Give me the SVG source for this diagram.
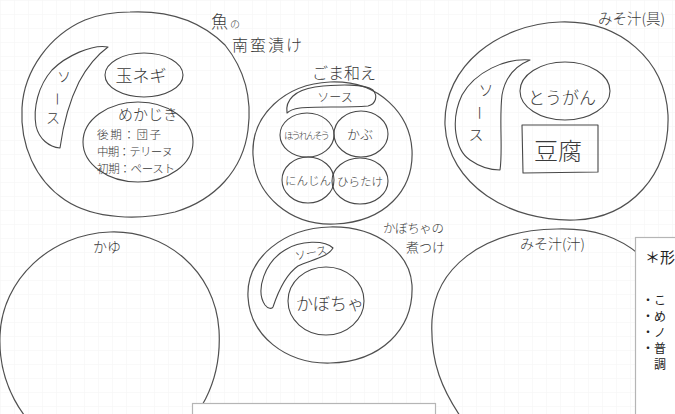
<svg xmlns="http://www.w3.org/2000/svg" width="675" height="414" viewBox="0 0 675 414">
<defs>
<pattern id="grid" width="14" height="14" patternUnits="userSpaceOnUse">
<path d="M14 0 L0 0 0 14" fill="none" stroke="#f3f3f3" stroke-width="1"/>
</pattern>
</defs>
<style>
.ln{fill:none;stroke:#484848;stroke-width:1.1;stroke-linejoin:round;stroke-linecap:round}
.pl{fill:none;stroke:#505050;stroke-width:1.2}
.t{font-family:"Noto Sans CJK JP","Noto Sans",sans-serif;fill:#3a3a3a;font-weight:300}
.c{text-anchor:middle}
.box{fill:#fff;stroke:#b5b5b5;stroke-width:1.2}
.bx{font-family:"Noto Sans CJK JP","Noto Sans",sans-serif;fill:#222}
</style>
<rect width="675" height="414" fill="#fff"/>
<rect width="675" height="414" fill="url(#grid)"/>

<g id="plate-nanban">
<path class="pl" d="M130,12 C175,10 205,25 225,45 C245,70 252,100 248,130 C243,170 215,200 175,212 C140,220 95,220 65,200 C35,180 20,145 22,108 C24,70 50,35 85,20 C100,14 115,12 130,12 Z"/>
<text class="t" x="211" y="28" font-size="17">魚</text>
<text class="t" x="230" y="28" font-size="10">の</text>
<text class="t" x="232" y="51" font-size="16" textLength="70">南蛮漬け</text>
<g id="nanban-sauce">
<path class="ln" d="M108,47 C92,44 66,56 52,70 C38,86 33,108 36,126 C39,139 49,147 60,148 C63,126 69,102 79,82 C87,67 97,55 108,47 Z"/>
<text class="t c" x="64" y="82" font-size="14">ソ</text>
<text class="t c" x="57" y="104" font-size="14" transform="rotate(90 57 99)">ー</text>
<text class="t c" x="53" y="123" font-size="14">ス</text>
</g>
<g id="tamanegi">
<ellipse class="ln" cx="144" cy="75" rx="39" ry="22"/>
<text class="t c" x="141" y="82" font-size="17">玉ネギ</text>
</g>
<g id="mekajiki">
<ellipse class="ln" cx="138" cy="142" rx="55" ry="40"/>
<text class="t c" x="148" y="120" font-size="15">めかじき</text>
<text class="t" x="97" y="139" font-size="11.5" textLength="64">後期：団子</text>
<text class="t" x="97" y="156" font-size="11.5" textLength="76">中期：テリーヌ</text>
<text class="t" x="97" y="173" font-size="11.5" textLength="78">初期：ペースト</text>
</g>
</g>

<g id="plate-goma">
<path class="pl" d="M330,82 C380,80 410,115 412,150 C414,190 385,222 335,224 C290,226 255,195 253,155 C251,115 285,84 330,82 Z"/>
<text class="t" x="312" y="79" font-size="16" textLength="64">ごま和え</text>
<g id="goma-sauce">
<path class="ln" d="M287,113 C285,100 295,90 315,87 C340,84 365,84 373,90 C378,96 376,104 368,106 C345,108 315,106 300,108 C293,109 289,111 287,113 Z"/>
<text class="t c" x="335" y="102" font-size="12">ソース</text>
</g>
<g id="hourensou">
<ellipse class="ln" cx="307" cy="135" rx="27" ry="22"/>
<text class="t c" x="307" y="139" font-size="9.5" textLength="46">ほうれんそう</text>
</g>
<g id="kabu">
<ellipse class="ln" cx="361" cy="134" rx="27" ry="23"/>
<text class="t c" x="360" y="139" font-size="13">かぶ</text>
</g>
<g id="ninjin">
<ellipse class="ln" cx="308" cy="180" rx="26" ry="23"/>
<text class="t c" x="308" y="185" font-size="11.5">にんじん</text>
</g>
<g id="hiratake">
<ellipse class="ln" cx="360" cy="181" rx="28" ry="23"/>
<text class="t c" x="360" y="186" font-size="11.5">ひらたけ</text>
</g>
</g>

<g id="plate-misogu">
<path class="pl" d="M560,22 C620,20 665,60 668,115 C670,175 630,218 575,220 C510,222 448,185 445,125 C443,65 500,24 560,22 Z"/>
<text class="t" x="598" y="24" font-size="14.5">みそ汁(具)</text>
<g id="miso-sauce">
<path class="ln" d="M530,60 C505,58 475,72 462,95 C450,120 455,150 470,160 C480,167 490,170 500,170 C503,150 499,120 502,95 C505,78 515,66 530,60 Z"/>
<text class="t c" x="486" y="96" font-size="15">ソ</text>
<text class="t c" x="479" y="118" font-size="15" transform="rotate(90 479 113)">ー</text>
<text class="t c" x="476" y="140" font-size="15">ス</text>
</g>
<g id="tougan">
<ellipse class="ln" cx="565" cy="91" rx="45" ry="29"/>
<text class="t c" x="562" y="104" font-size="17">とうがん</text>
</g>
<g id="tofu">
<polygon class="ln" points="522,125 598,125 598,172 523,173"/>
<text class="t c" x="558" y="160" font-size="24">豆腐</text>
</g>
</g>

<g id="plate-kayu">
<path class="pl" d="M110,232 C165,230 215,270 219,330 C222,380 200,425 160,445 L60,445 C20,425 -2,380 0,335 C2,280 50,234 110,232 Z"/>
<text class="t" x="93" y="252" font-size="14">かゆ</text>
</g>

<g id="plate-kabocha">
<path class="pl" d="M330,227 C380,226 410,255 412,285 C414,330 380,362 330,363 C285,364 250,335 248,297 C246,257 285,228 330,227 Z"/>
<text class="t" x="383" y="233" font-size="12.5" textLength="61">かぼちゃの</text>
<text class="t" x="406" y="252" font-size="13">煮つけ</text>
<g id="kabocha-sauce">
<path class="ln" d="M333,248 C325,240 300,240 285,250 C265,262 255,290 265,305 C268,309 272,309 273,307 C278,292 285,275 298,266 C310,260 327,258 333,248 Z"/>
<text class="t c" x="311" y="257" font-size="11" transform="rotate(-12 311 253)">ソース</text>
</g>
<g id="kabocha">
<ellipse class="ln" cx="326" cy="301" rx="38" ry="34"/>
<text class="t c" x="330" y="310" font-size="17">かぼちゃ</text>
</g>
</g>

<g id="plate-misojiru">
<path class="pl" d="M557,229 C595,228 620,238 640,255 C680,290 690,360 660,430 L470,430 C440,390 430,360 432,320 C435,270 480,230 557,229 Z"/>
<text class="t" x="520" y="249" font-size="14">みそ汁(汁)</text>
</g>

<g id="connectors"></g>

<g id="note-box">
<rect class="box" x="635.5" y="237.5" width="60" height="200"/>
<text class="bx" x="645" y="263" font-size="15">＊形</text>
<text class="bx" x="642" y="305" font-size="12">・こ</text>
<text class="bx" x="642" y="321" font-size="12">・め</text>
<text class="bx" x="642" y="337" font-size="12">・ノ</text>
<text class="bx" x="642" y="353" font-size="12">・普</text>
<text class="bx" x="654" y="369" font-size="12">調</text>
</g>

<g id="bottom-box">
<rect class="box" x="192.5" y="403.5" width="243" height="30"/>
</g>
</svg>
